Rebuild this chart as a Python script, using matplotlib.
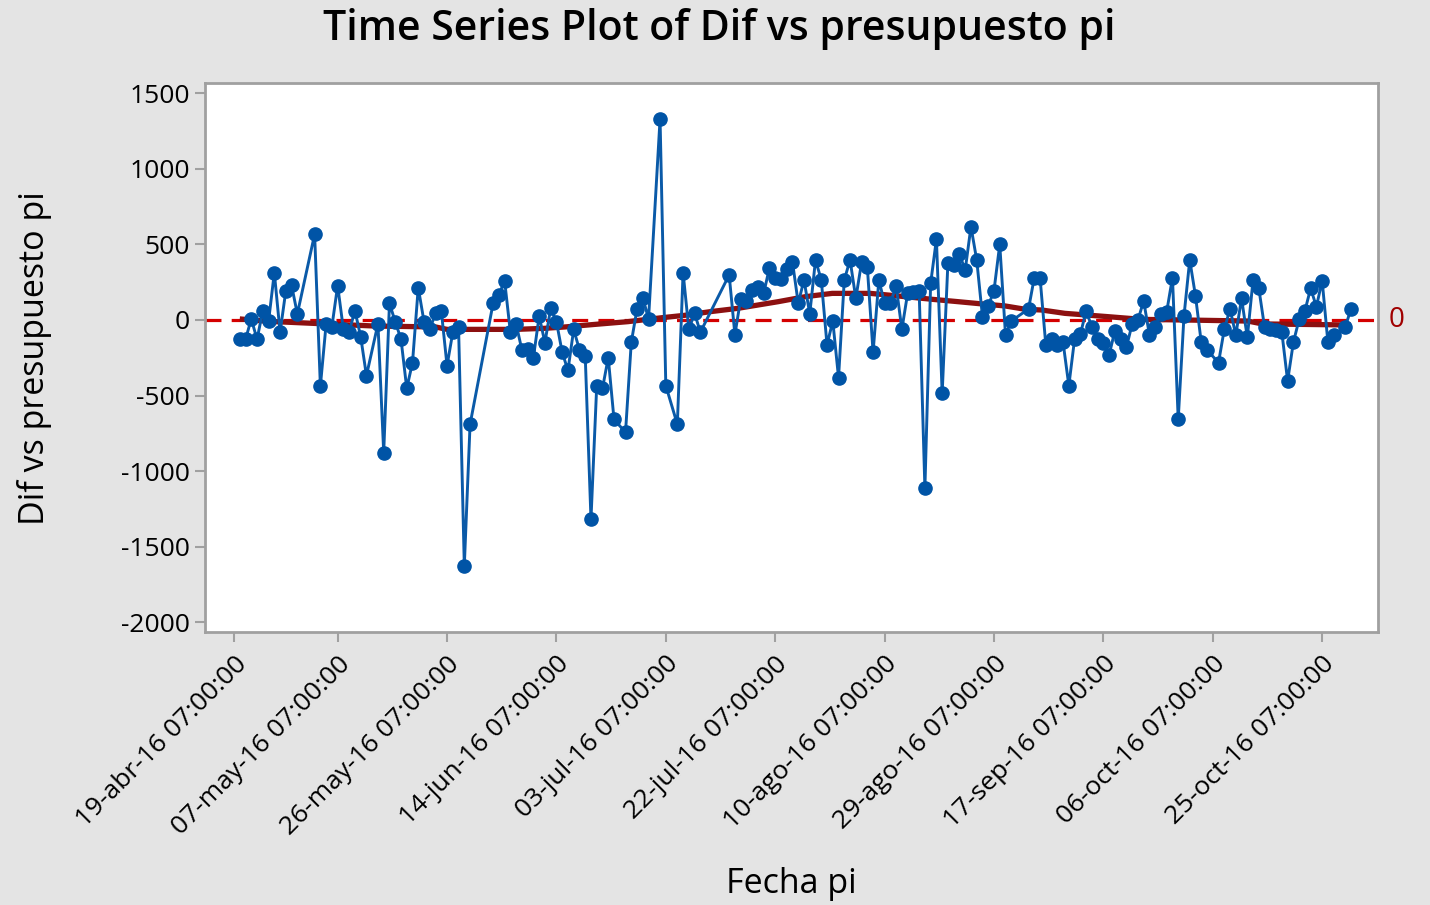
import matplotlib
matplotlib.use("Agg")
import matplotlib.pyplot as plt
import numpy as np
import pandas as pd

# ---- data ----
start = "2016-04-19 07:00:00"
day_offsets = [1, 2, 3, 4, 5, 6, 7, 8, 9, 10, 11, 14, 15, 16, 17, 18, 19, 20, 21, 22,
               23, 25, 26, 27, 28, 29, 30, 31, 32, 33, 34, 35, 36, 37, 38, 39, 40, 41,
               45, 46, 47, 48, 49, 50, 51, 52, 53, 54, 55, 56, 57, 58, 59, 60, 61, 62,
               63, 64, 65, 66, 68, 69, 70, 71, 72, 74, 75, 77, 78, 79, 80, 81,
               86, 87, 88, 89, 90, 91, 92, 93, 94, 95, 96, 97, 98, 99, 100, 101, 102,
               103, 104, 105, 106, 107, 108, 109, 110, 111, 112, 113, 114, 115, 116,
               117, 118, 119, 120, 121, 122, 123, 124, 125, 126, 127, 128, 129, 130,
               131, 132, 133, 134, 135,
               138, 139, 140, 141, 142, 143, 144, 145, 146, 147, 148, 149, 150, 151,
               152, 153, 154, 155, 156, 157, 158, 159, 160, 161, 162, 163, 164, 165,
               166, 167, 168, 169,
               171, 172, 173, 174, 175, 176, 177, 178, 179, 180, 181, 182, 183, 184,
               185, 186, 187, 188, 189, 190, 191, 193, 194]
dif_values = [-128, -128, 7, -128, 62, -9, 313, -81, 194, 229, 40, 567, -437, -26, -44,
              227, -62, -77, 62, -110, -368, -26, -877, 110, -11, -126, -452, -282, 214,
              -11, -62, 44, 62, -302, -81, -46, -1625, -690,
              110, 165, 260, -81, -26, -198, -194, -249, 26, -150, 77, -11, -214, -333,
              -62, -198, -236, -1318, -434, -452, -249, -657, -743, -148, 73, 148, 7,
              1329, -434, -690, 313, -62, 44, -81,
              298, -97, 139, 128, 198, 220, 176, 346, 280, 271, 335, 384, 110, 265, 40,
              397, 265, -165, -7, -381, 265, 397, 143, 381, 350, -214, 265, 110, 110,
              227, -62, 176, 185, 194, -1113, 243, 534, -485, 379, 364, 434, 331, 617,
              397, 22, 93, 194, 500, -99, -7,
              73, 280, 280, -165, -126, -165, -148, -434, -126, -95, 60, -44, -126,
              -150, -231, -71, -128, -181, -26, 0, 126, -99, -44, 40, 55, 280, -657,
              26, 397, 159, -148, -198,
              -282, -62, 73, -99, 143, -115, 265, 209, -49, -62, -64, -81, -403, -148,
              4, 60, 209, 88, 260, -148, -99, -49, 73]
trend_days = [1, 6, 16, 24.5, 35, 37, 49, 54, 57.5, 62.7, 68.4, 74.3, 78.3, 82.7, 87.5,
              94.5, 99.2, 103.9, 110.5, 115.3, 121.2, 125.8, 130, 133.9, 137.4, 140.3,
              144.3, 151.8, 157.7, 165.2, 176.1, 178.6, 194]
trend_values = [7, -9, -26, -40, -46, -62, -62, -55, -46, -29, -11, 15, 31, 55, 77,
                121, 154, 176, 176, 159, 137, 121, 106, 93, 71, 66, 44, 22, 4, 0, -7,
                -26, -33]
tick_days = [0, 18, 37, 56, 75, 94, 113, 132, 151, 170, 189]
tick_labels = ["19-abr-16 07:00:00", "07-may-16 07:00:00", "26-may-16 07:00:00",
               "14-jun-16 07:00:00", "03-jul-16 07:00:00", "22-jul-16 07:00:00",
               "10-ago-16 07:00:00", "29-ago-16 07:00:00", "17-sep-16 07:00:00",
               "06-oct-16 07:00:00", "25-oct-16 07:00:00"]
y_ticks = [1500, 1000, 500, 0, -500, -1000, -1500, -2000]
ref_value = 0

t0 = pd.Timestamp(start)
dates = t0 + pd.to_timedelta(day_offsets, unit="D")
tdates = t0 + pd.to_timedelta(trend_days, unit="D")
ticks = t0 + pd.to_timedelta(tick_days, unit="D")

plt.rcParams["font.family"] = ["Open Sans", "DejaVu Sans"]

bg = "#e4e4e4"
fig = plt.figure(figsize=(14.3, 9.05), dpi=100, facecolor=bg)
ax = fig.add_axes([205 / 1430, 1 - 632 / 905, (1378 - 205) / 1430, (632 - 83) / 905])
ax.set_facecolor("white")

ax.axhline(ref_value, color="#d40000", lw=2.3, ls=(0, (5, 3.2)), zorder=1)
ax.plot(tdates, trend_values, color="#8c1010", lw=3.8, zorder=2, solid_capstyle="butt")
ax.plot(dates, dif_values, color="#0a5aa8", lw=2.1, marker="o", ms=9.5,
        markerfacecolor="#0054a6", markeredgecolor="#0054a6", zorder=3)

ax.set_xlim(t0 - pd.Timedelta(days=5.04), t0 + pd.Timedelta(days=198.7))
ax.set_ylim(-2063, 1567)
ax.set_yticks(y_ticks)
ax.set_yticklabels([str(v) for v in y_ticks])
ax.set_xticks(ticks)
ax.set_xticklabels(tick_labels, rotation=45, ha="right", rotation_mode="anchor")

for s in ax.spines.values():
    s.set_color("#a0a0a0")
    s.set_linewidth(2)
ax.tick_params(axis="both", direction="out", length=7, width=1.5, color="#a0a0a0",
               labelsize=19, labelcolor="black")
ax.tick_params(axis="x", pad=7)
ax.tick_params(axis="y", pad=4)

ax.text(1.009, ref_value, "0", transform=ax.get_yaxis_transform(), color="#a00000",
        fontsize=20, va="center", ha="left")

fig.text(0.503, 1 - 29 / 905, "Time Series Plot of Dif vs presupuesto pi", ha="center",
         va="center", fontsize=29.5, fontweight="semibold")
fig.text(35 / 1430, 1 - 358 / 905, "Dif vs presupuesto pi", rotation=90, ha="center",
         va="center", fontsize=24.5, fontweight="medium")
fig.text(791 / 1430, 1 - 884 / 905, "Fecha pi", ha="center", va="center", fontsize=24.5,
         fontweight="medium")

fig.savefig("out.png", dpi=100, facecolor=bg)
